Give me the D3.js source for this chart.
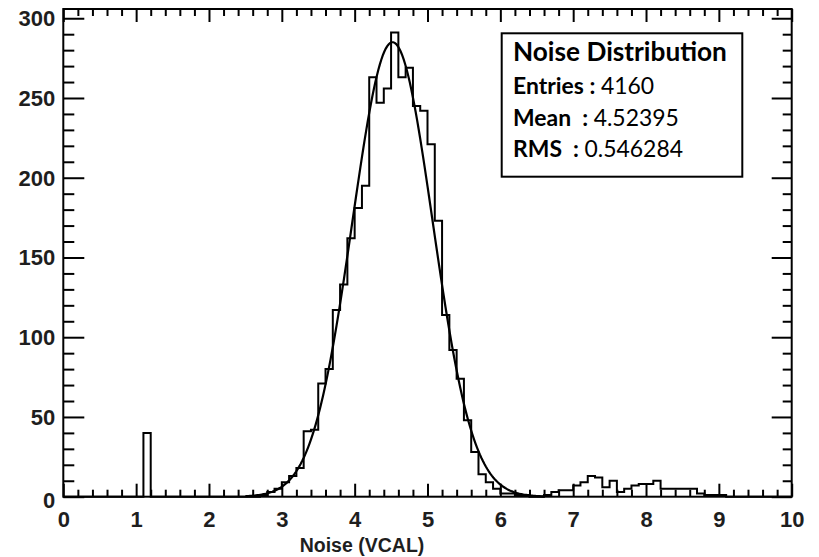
<!DOCTYPE html>
<html>
<head>
<meta charset="utf-8">
<script src="https://cdn.jsdelivr.net/npm/d3@7"></script>
<style>
  html, body { margin: 0; padding: 0; background: #fff; }
  svg { display: block; }
  .tick text { font-family: "Liberation Sans", Arial, sans-serif; font-weight: bold; fill: #1e1e1e; }
</style>
</head>
<body>
<svg id="chart" width="819" height="557"></svg>
<script>
// ---------------- data ----------------
const xDomain = [0, 10];
const binWidth = 0.1;
// counts per bin, bin i covers [i*0.1, (i+1)*0.1)
const binCounts = [
  0,0,0,0,0,0,0,0,0,0,        // 0.0 - 0.9
  0,40,0,0,0,0,0,0,0,0,       // 1.0 - 1.9
  0,0,0,0,0,0,0,1,3,5,        // 2.0 - 2.9
  9,13,18,41,42,71,80,117,133,162,   // 3.0 - 3.9
  181,195,263,247,256,291,263,269,245,242, // 4.0 - 4.9
  221,173,114,92,74,48,28,14,9,5,    // 5.0 - 5.9
  2,2,1,1,0,0,1,3,4,4,        // 6.0 - 6.9
  7,9,13,12,6,10,3,5,7,8,     // 7.0 - 7.9
  8,10,5,5,5,5,5,2,1,1,       // 8.0 - 8.9
  1,0,0,0,0,0,0,0,0,0         // 9.0 - 9.9
];
const xTickLabels = ["0","1","2","3","4","5","6","7","8","9","10"];
const yTickLabels = ["0","50","100","150","200","250","300"];
const yMax = 305.8;
// Gaussian fit: [constant, mean, sigma]
const fitParams = [285, 4.52, 0.55];
const fitRange = [2.5, 6.6];
const xTitle = "Noise (VCAL)";
const statsTitle = "Noise Distribution";
const statsLabels = ["Entries :", "Mean  :", "RMS  :"];
const statsValues = ["4160", "4.52395", "0.546284"];

// ---------------- layout ----------------
const L = 63.3, R = 791.7, T = 9, B = 496.7;
const svg = d3.select("#chart");
const x = d3.scaleLinear().domain(xDomain).range([L, R]);
const y = d3.scaleLinear().domain([0, yMax]).range([B, T]);

const xMajor = xTickLabels.map(Number);
const xMinor = d3.range(0, 10.0001, 0.2).map(v => +v.toFixed(2)).filter(v => Math.abs(v - Math.round(v)) > 1e-6);
const yMajor = yTickLabels.map(Number);
const yMinor = d3.range(0, yMax, 10).filter(v => v % 50 !== 0);

function styleAxis(g, sw) {
  g.select(".domain").remove();
  g.selectAll(".tick line").attr("stroke", "#000").attr("stroke-width", sw);
}

// bottom axis
svg.append("g").attr("transform", `translate(0,${B})`)
  .call(d3.axisBottom(x).tickValues(xMajor).tickSize(-13).tickPadding(15).tickFormat((d,i) => xTickLabels[i]))
  .call(g => styleAxis(g, 2))
  .call(g => g.selectAll("text").style("font-size", "22px"));
svg.append("g").attr("transform", `translate(0,${B})`)
  .call(d3.axisBottom(x).tickValues(xMinor).tickSize(-7).tickFormat(""))
  .call(g => styleAxis(g, 2));
// top axis
svg.append("g").attr("transform", `translate(0,${T})`)
  .call(d3.axisTop(x).tickValues(xMajor).tickSize(-13).tickFormat(""))
  .call(g => styleAxis(g, 2));
svg.append("g").attr("transform", `translate(0,${T})`)
  .call(d3.axisTop(x).tickValues(xMinor).tickSize(-7).tickFormat(""))
  .call(g => styleAxis(g, 2));
// left axis
svg.append("g").attr("transform", `translate(${L},0)`)
  .call(d3.axisLeft(y).tickValues(yMajor).tickSize(-21).tickPadding(8).tickFormat((d,i) => yTickLabels[i]))
  .call(g => styleAxis(g, 2))
  .call(g => g.selectAll("text").style("font-size", "22px").attr("dy", d => d === 0 ? "0.5em" : "0.34em"));
svg.append("g").attr("transform", `translate(${L},0)`)
  .call(d3.axisLeft(y).tickValues(yMinor).tickSize(-11).tickFormat(""))
  .call(g => styleAxis(g, 2));
// right axis
svg.append("g").attr("transform", `translate(${R},0)`)
  .call(d3.axisRight(y).tickValues(yMajor).tickSize(-20).tickFormat(""))
  .call(g => styleAxis(g, 2));
svg.append("g").attr("transform", `translate(${R},0)`)
  .call(d3.axisRight(y).tickValues(yMinor).tickSize(-9).tickFormat(""))
  .call(g => styleAxis(g, 2));

// histogram outline
const pts = [[xDomain[0], 0]];
binCounts.forEach((c, i) => {
  const lo = xDomain[0] + i * binWidth, hi = lo + binWidth;
  pts.push([lo, c], [hi, c]);
});
pts.push([xDomain[1], 0]);
svg.append("path")
  .attr("d", d3.line().x(d => x(d[0])).y(d => y(d[1]))(pts))
  .attr("fill", "none").attr("stroke", "#000").attr("stroke-width", 2)
  .attr("stroke-linejoin", "miter");

// fit curve
const [A, mu, sg] = fitParams;
const fx = d3.range(fitRange[0], fitRange[1] + 1e-9, (fitRange[1] - fitRange[0]) / 200);
svg.append("path")
  .attr("d", d3.line().x(d => x(d)).y(d => y(A * Math.exp(-0.5 * ((d - mu) / sg) ** 2))).curve(d3.curveLinear)(fx))
  .attr("fill", "none").attr("stroke", "#000").attr("stroke-width", 2.2);

// frame
svg.append("rect").attr("x", L).attr("y", T).attr("width", R - L).attr("height", B - T)
  .attr("fill", "none").attr("stroke", "#000").attr("stroke-width", 2);

// x title
svg.append("text").attr("x", 362).attr("y", 552).attr("text-anchor", "middle")
  .style("font-family", "'Liberation Sans', Arial, sans-serif").style("font-weight", "bold")
  .style("font-size", "19.5px").attr("fill", "#1e1e1e").text(xTitle);

// stats box
const bx = 501.7, by = 33.3, bw = 240.6, bh = 143.4;
svg.append("rect").attr("x", bx).attr("y", by).attr("width", bw).attr("height", bh)
  .attr("fill", "#fff").attr("stroke", "#000").attr("stroke-width", 2);
const sFont = "Lato, 'Open Sans', sans-serif";
const tt = svg.append("text").attr("x", 513).attr("y", 61)
  .style("font-family", sFont).style("font-weight", "bold").style("font-size", "24px")
  .attr("fill", "#000").text(statsTitle);
// fit title width to ~214px
const tw = tt.node().getComputedTextLength();
tt.style("font-size", (24 * 214 / tw).toFixed(2) + "px");

const rowY = [94, 126, 157];
const rows = statsLabels.map((lab, i) => {
  const t = svg.append("text").attr("x", 513).attr("y", rowY[i])
    .style("font-family", sFont).style("font-size", "20px").style("white-space", "pre").attr("fill", "#000");
  t.append("tspan").style("font-weight", "bold").text(lab + " ");
  t.append("tspan").style("font-weight", "normal").text(statsValues[i]);
  return t;
});
const rw = rows[2].node().getComputedTextLength();
const rs = (20 * 170 / rw).toFixed(2) + "px";
rows.forEach(t => t.style("font-size", rs));
</script>
</body>
</html>
